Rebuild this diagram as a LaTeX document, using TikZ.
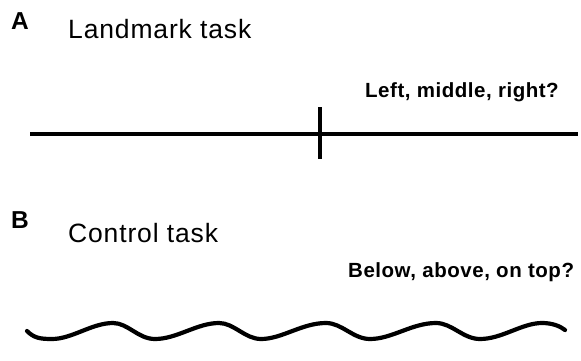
\documentclass[tikz,border=0pt]{standalone}
\usepackage{fontspec}
\setmainfont{Liberation Sans}
\begin{document}
\begin{tikzpicture}[x=1pt,y=-1pt,
  panel/.style={font=\fontsize{24.5}{24.5}\selectfont\bfseries, anchor=base west, inner sep=0pt},
  title/.style={font=\addfontfeature{LetterSpace=3.2}\fontsize{26.5}{26.5}\selectfont, anchor=base west, inner sep=0pt},
  question/.style={font=\addfontfeature{LetterSpace=2.6}\fontsize{20.5}{20.5}\selectfont\bfseries, anchor=base west, inner sep=0pt},
  stroke/.style={line width=3.2pt},
  wave/.style={line width=4.2pt, line cap=round, line join=round}]
\useasboundingbox (0,0) rectangle (581,361);
% panel A
\node[panel] (lblA) at (11,29.5) {A};
\node[title] (tA) at (68,39) {Landmark task};
\node[question] (qA) at (365,97) {Left, middle, right?};
\coordinate (l1) at (30,134);
\coordinate (l2) at (578,134);
\coordinate (t1) at (320,107);
\coordinate (t2) at (320,159);
\draw[stroke] (l1) -- (l2);
\draw[line width=4.4pt] (t1) -- (t2);
% panel B
\node[panel] (lblB) at (11,228.5) {B};
\node[title] (tB) at (68,242) {Control task};
\node[question] (qB) at (348,277) {Below, above, on top?};
\coordinate (w0) at (27,331);
\coordinate (w1) at (565,330);
\draw[wave] (w0) .. controls (34,338) and (40,339) .. (52,339)
  .. controls (72,339) and (92,323) .. (113,323)
  .. controls (128,323) and (138,339) .. (155,339)
  .. controls (177,339) and (197,323) .. (219,323)
  .. controls (234,323) and (245,339) .. (261,339)
  .. controls (282,339) and (302,323) .. (326,323)
  .. controls (342,323) and (353,339) .. (370,339)
  .. controls (392,339) and (412,323) .. (436,323)
  .. controls (452,323) and (463,339) .. (480,339)
  .. controls (502,339) and (522,323) .. (542,323)
  .. controls (552,323) and (560,326) .. (w1);
\end{tikzpicture}
\end{document}
